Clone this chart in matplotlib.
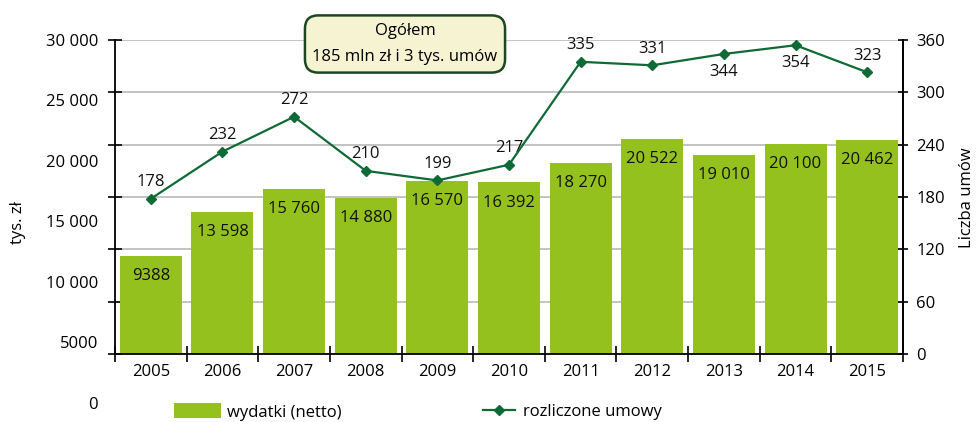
import matplotlib
matplotlib.use("Agg")
import matplotlib.pyplot as plt
from matplotlib.lines import Line2D
from matplotlib.patches import Patch

plt.rcParams['font.family'] = ['Open Sans', 'DejaVu Sans']
plt.rcParams['font.size'] = 12

years = ["2005", "2006", "2007", "2008", "2009", "2010", "2011", "2012", "2013", "2014", "2015"]
wydatki = [9388, 13598, 15760, 14880, 16570, 16392, 18270, 20522, 19010, 20100, 20462]
umowy = [178, 232, 272, 210, 199, 217, 335, 331, 344, 354, 323]
label_below = [False, False, False, False, False, False, False, False, True, True, False]
left_ticks = [0, 5000, 10000, 15000, 20000, 25000, 30000]
right_ticks = [0, 60, 120, 180, 240, 300, 360]

BAR = "#95C11F"
LINE = "#0E6B35"


def fmt(v):
    return f"{v:,}".replace(",", " ") if v >= 10000 else str(v)


W, H = 978, 422
fig = plt.figure(figsize=(W / 100, H / 100), dpi=100)

L, R, T, B = 115, 903, 40, 354
ax = fig.add_axes([L / W, (H - B) / H, (R - L) / W, (B - T) / H])

# ghost axes for left labels (they are spread further down in the original)
gB = 403
gax = fig.add_axes([L / W, (H - gB) / H, (R - L) / W, (gB - T) / H], zorder=-1)
gax.set_facecolor("none")
for s in gax.spines.values():
    s.set_visible(False)
gax.set_ylim(0, 30000)
gax.set_xticks([])
gax.set_yticks(left_ticks)
gax.set_yticklabels([fmt(v) for v in left_ticks])
gax.tick_params(axis="y", length=0, pad=12.2, labelsize=12)

x = list(range(len(years)))
ax.bar(x, wydatki, width=0.865, color=BAR, zorder=2)
ax.set_xlim(-0.5, len(years) - 0.5)
ax.set_ylim(0, 30000)
ax.set_yticks(left_ticks)
ax.set_yticklabels([])
ax.grid(axis="y", color="#BEBEBE", lw=1.3, zorder=0)
ax.set_axisbelow(True)
ax.set_xticks(x)
ax.set_xticklabels(years)
ax.set_xticks([i - 0.5 for i in range(len(years) + 1)], minor=True)
ax.tick_params(axis="x", which="major", length=0, pad=7, labelsize=12)
ax.tick_params(axis="x", which="minor", direction="inout", length=11, width=1.2)
ax.tick_params(axis="y", direction="inout", length=10, width=1.2)
ax.spines["top"].set_visible(False)
for s in ["left", "bottom", "right"]:
    ax.spines[s].set_linewidth(1.3)

for xi, v in zip(x, wydatki):
    ax.annotate(fmt(v), (xi, v), xytext=(0, -14.5), textcoords="offset points",
                ha="center", va="center", fontsize=12, color="#111111", zorder=3)

ax2 = ax.twinx()
ax2.set_ylim(0, 360)
ax2.set_yticks(right_ticks)
ax2.plot(x, umowy, color=LINE, lw=1.6, marker="D", markersize=5.5, zorder=4)
ax2.tick_params(axis="y", direction="inout", length=7, width=1.2, pad=6, labelsize=12)
ax2.spines["top"].set_visible(False)
ax2.spines["left"].set_visible(False)
ax2.spines["bottom"].set_visible(False)
ax2.spines["right"].set_linewidth(1.3)
for xi, v, below in zip(x, umowy, label_below):
    off = -13 if below else 12
    ax2.annotate(str(v), (xi, v), xytext=(0, off), textcoords="offset points",
                 ha="center", va="center", fontsize=12, color="#111111")

fig.text(18 / W, (H - 223) / H, "tys. zł", rotation=90, ha="center", va="center", fontsize=12)
fig.text(967 / W, (H - 198) / H, "Liczba umów", rotation=90, ha="center", va="center", fontsize=12)

fig.text(405 / W, (H - 44) / H, "Ogółem\n185 mln zł i 3 tys. umów", ha="center", va="center",
         fontsize=12, linespacing=1.85, zorder=10,
         bbox=dict(boxstyle="round,pad=0.45,rounding_size=0.8", facecolor="#F5F3D2",
                   edgecolor="#1D4722", linewidth=1.8))

leg_y = (H - 412) / H
leg1 = fig.legend([Patch(facecolor=BAR, edgecolor="none")], ["wydatki (netto)"],
                  loc="center left", bbox_to_anchor=(174 / W, leg_y), frameon=False,
                  fontsize=12, borderpad=0, borderaxespad=0, handlelength=2.8,
                  handleheight=1.0, handletextpad=0.4)
leg2 = fig.legend([Line2D([0], [0], color=LINE, lw=1.6, marker="D", markersize=5.5)],
                  ["rozliczone umowy"],
                  loc="center left", bbox_to_anchor=(483 / W, leg_y), frameon=False,
                  fontsize=12, borderpad=0, borderaxespad=0, handlelength=1.9,
                  handletextpad=0.5)

fig.savefig("out.png", dpi=100)
